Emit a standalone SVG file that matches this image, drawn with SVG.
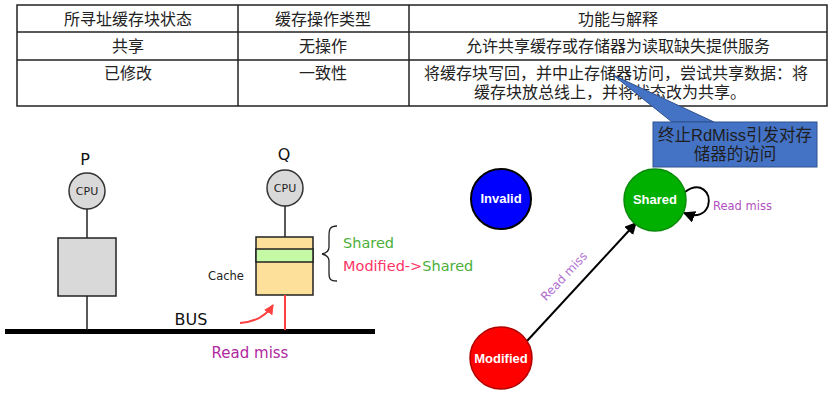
<svg xmlns="http://www.w3.org/2000/svg" width="830" height="402" viewBox="0 0 830 402">
<defs>
<style>
.cjk{font-family:"Liberation Sans","Noto Sans CJK SC",sans-serif;}
.tt{font-size:16px;fill:#222;text-anchor:middle;}
.grid{stroke:#222;stroke-width:1.5;fill:none;}
.cpu{fill:#d9d9d9;stroke:#333;stroke-width:1.5;}
.cpt{font-family:"DejaVu Sans",sans-serif;font-size:11px;fill:#222;text-anchor:middle;}
.wire{stroke:#222;stroke-width:1.5;fill:none;}
.st{font-family:"Liberation Sans",Arial,sans-serif;font-weight:bold;font-size:13px;fill:#fff;text-anchor:middle;}
.tah{font-family:"DejaVu Sans",sans-serif;}
</style>
<marker id="ab" viewBox="0 0 10 10" refX="9" refY="5" markerWidth="6" markerHeight="6" orient="auto"><path d="M0,0 L10,5 L0,10 z" fill="#000"/></marker>
<marker id="ar" viewBox="0 0 10 10" refX="9" refY="5" markerWidth="5" markerHeight="5" orient="auto"><path d="M0,0 L10,5 L0,10 z" fill="#ff4040"/></marker>
</defs>
<rect width="830" height="402" fill="#fff"/>
<g id="table">
<rect class="grid" x="17" y="5" width="810" height="101"/>
<line class="grid" x1="17" y1="32" x2="827" y2="32"/>
<line class="grid" x1="17" y1="60" x2="827" y2="60"/>
<line class="grid" x1="238" y1="5" x2="238" y2="106"/>
<line class="grid" x1="409" y1="5" x2="409" y2="106"/>
<text class="cjk tt" x="128" y="25">所寻址缓存块状态</text>
<text class="cjk tt" x="323" y="25">缓存操作类型</text>
<text class="cjk tt" x="618" y="25">功能与解释</text>
<text class="cjk tt" x="128" y="52">共享</text>
<text class="cjk tt" x="323" y="52">无操作</text>
<text class="cjk tt" x="618" y="52">允许共享缓存或存储器为读取缺失提供服务</text>
<text class="cjk tt" x="128" y="79">已修改</text>
<text class="cjk tt" x="323" y="79">一致性</text>
<text class="cjk tt" x="616" y="79">将缓存块写回，并中止存储器访问，尝试共享数据：将</text>
<text class="cjk tt" x="610" y="98">缓存块放总线上，并将状态改为共享。</text>
</g>
<g id="callout">
<polygon points="613,75 672,122 714,122" fill="#4472c4" stroke="#2f528f" stroke-width="1"/>
<rect x="653" y="122" width="164" height="45" fill="#4472c4" stroke="#2f528f" stroke-width="1"/>
<text class="cjk" x="735" y="141" font-size="16.5" fill="#1e1e1e" text-anchor="middle">终止RdMiss引发对存</text>
<text class="cjk" x="735" y="160" font-size="16.5" fill="#1e1e1e" text-anchor="middle">储器的访问</text>
</g>
<g id="bus">
<rect x="5" y="329" width="370" height="5" fill="#000"/>
<text class="tah" x="191" y="325" font-size="16" fill="#111" text-anchor="middle">BUS</text>
</g>
<g id="P">
<text class="tah" x="85" y="165" font-size="16" fill="#111" text-anchor="middle">P</text>
<circle class="cpu" cx="87" cy="191" r="18"/>
<text class="cpt" x="87" y="195">CPU</text>
<rect x="58" y="238" width="58" height="58" fill="#d9d9d9" stroke="#222" stroke-width="1.5"/>
</g>
<g id="Q">
<text class="tah" x="284" y="160" font-size="16" fill="#111" text-anchor="middle">Q</text>
<circle class="cpu" cx="285" cy="188" r="18"/>
<text class="cpt" x="285" y="192">CPU</text>
<rect x="256" y="237" width="57" height="58" fill="#fde09a" stroke="#222" stroke-width="1.5"/>
<rect x="256" y="249" width="57" height="13" fill="#c6f9a6" stroke="#222" stroke-width="1.5"/>
<text class="tah" x="226" y="280" font-size="11.5" fill="#222" text-anchor="middle">Cache</text>
<path d="M337,226 C330,226 329,229 329,236 L329,247 C329,251 327,253 322,254 C327,255 329,257 329,261 L329,273 C329,279 330,281 337,281" fill="none" stroke="#222" stroke-width="1.3"/>
<text class="tah" x="343" y="248" font-size="14.5" fill="#4caf3a">Shared</text>
<text class="tah" x="343" y="271" font-size="14.5" fill="#ff3366">Modified-&gt;<tspan fill="#4caf3a">Shared</tspan></text>
</g>
<g id="connectors">
<line class="wire" x1="87" y1="209" x2="87" y2="238"/>
<line class="wire" x1="87" y1="296" x2="87" y2="330"/>
<line class="wire" x1="285" y1="206" x2="285" y2="237"/>
<line x1="285" y1="295" x2="285" y2="330" stroke="#ff4040" stroke-width="2"/>
<path d="M240,323 C256,322 266,316 273,305" fill="none" stroke="#ff4040" stroke-width="2" marker-end="url(#ar)"/>
<line x1="527" y1="341" x2="636" y2="223" stroke="#000" stroke-width="2" marker-end="url(#ab)"/>
<path d="M685,192 C700,181 712,192 708,206 C705,214 697,218 684,213" fill="none" stroke="#000" stroke-width="2" marker-end="url(#ab)"/>
</g>
<text class="tah" x="250" y="358" font-size="15" fill="#b0289e" text-anchor="middle">Read miss</text>
<g id="Invalid">
<circle cx="501" cy="199" r="30" fill="#0000ff" stroke="#000" stroke-width="2"/>
<text class="st" x="501" y="203">Invalid</text>
</g>
<g id="Shared">
<circle cx="655" cy="200" r="31" fill="#00b000" stroke="#0a8a0a" stroke-width="1.5"/>
<text class="st" x="655" y="204">Shared</text>
<text class="tah" x="713" y="210" font-size="11.5" fill="#b050c0">Read miss</text>
</g>
<g id="Modified">
<circle cx="501" cy="358" r="31" fill="#ff0000" stroke="#b00000" stroke-width="1.5"/>
<text class="st" x="501" y="363">Modified</text>
</g>
<text class="tah" x="0" y="0" font-size="12" fill="#b070d0" text-anchor="middle" transform="translate(567,279) rotate(-47)">Read miss</text>
</svg>
